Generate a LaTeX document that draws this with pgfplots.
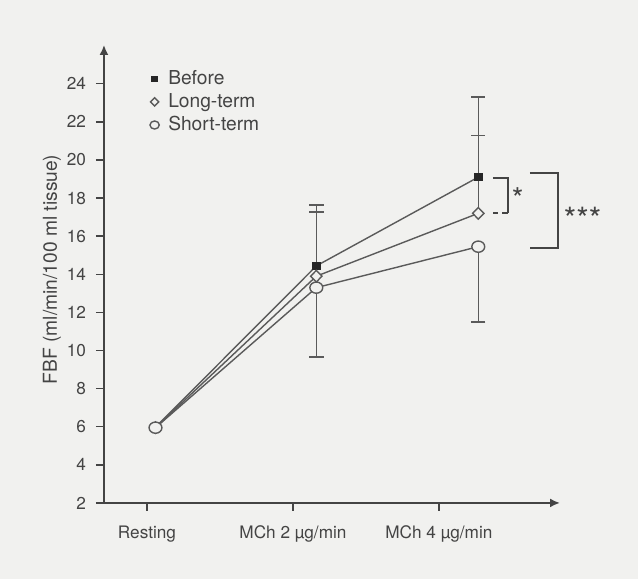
\documentclass[border=0pt]{standalone}
\usepackage{fontspec}
\setmainfont{TeX Gyre Heros}
\usepackage{pgfplots}
\pgfplotsset{compat=1.18}
\usetikzlibrary{backgrounds,arrows.meta}
\definecolor{Paper}{HTML}{F1F1EF}
\definecolor{Ink}{HTML}{444444}
\definecolor{Trace}{HTML}{5A5A5A}

\begin{document}
\begin{tikzpicture}
\begin{axis}[scale only axis,width=228pt,height=229pt,
  xmin=-0.295,xmax=2.83,ymin=2,ymax=26.04,
  axis lines=left,
  axis line style={Ink,line width=1pt,-{Latex[length=5pt,width=4.5pt]}},
  xtick={0,1,2},xticklabels={Resting,MCh 2 µg/min,MCh 4 µg/min},
  ytick={2,4,...,24},
  tick align=outside,major tick length=4pt,
  tick style={Ink,line width=0.7pt},
  /pgf/number format/assume math mode=true,
  tick label style={Ink,font=\fontsize{8.6}{9}\selectfont},
  xticklabel style={yshift=-4pt},
  yticklabel style={xshift=-1.5pt},
  ylabel={FBF (ml/min/100 ml tissue)},
  every axis y label/.style={at={(rel axis cs:-0.114,0.51)},rotate=90,anchor=center,
    Ink,font=\fontsize{9.6}{10}\selectfont},
  clip=false,
  legend image code/.code={\draw[#1,every mark/.append style={scale=0.72}] plot coordinates {(0pt,0pt)};},
  legend style={draw=none,fill=none,at={(rel axis cs:0.1,0.952)},anchor=north west,
    inner sep=0pt,row sep=0pt,font=\fontsize{9.6}{10}\selectfont,text=Ink,
    nodes={inner sep=1.5pt},
    /tikz/every odd column/.append style={column sep=3pt}},
  legend cell align=left]

% error bars first, markers sit on top of them
\addplot[forget plot,draw=none,mark=none,
  error bars/.cd,y dir=plus,y explicit,
  error bar style={draw=Trace,line width=0.7pt},
  error mark options={draw=Trace,rotate=90,mark size=3.6pt,line width=0.7pt}]
  coordinates {(1.16,14.44) +- (0,3.2) (2.27,19.1) +- (0,4.2)};
\addplot[forget plot,draw=none,mark=none,
  error bars/.cd,y dir=plus,y explicit,
  error bar style={draw=Trace,line width=0.7pt},
  error mark options={draw=Trace,rotate=90,mark size=3.6pt,line width=0.7pt}]
  coordinates {(1.16,13.9) +- (0,3.38) (2.27,17.2) +- (0,4.07)};
\addplot[forget plot,draw=none,mark=none,
  error bars/.cd,y dir=minus,y explicit,
  error bar style={draw=Trace,line width=0.7pt},
  error mark options={draw=Trace,rotate=90,mark size=3.6pt,line width=0.7pt}]
  coordinates {(1.16,13.3) +- (0,3.64) (2.27,15.45) +- (0,3.95)};

\addplot[Trace,line width=0.7pt,mark=square*,mark size=1.8pt,
  mark options={fill=black!85,draw=black!85}]
  coordinates {(0.056,5.96) (1.16,14.44) (2.27,19.1)};
\addlegendentry{Before}
\addplot[Trace,line width=0.7pt,mark=diamond*,mark size=2.9pt,
  mark options={fill=Paper,draw=Trace,xscale=1.3}]
  coordinates {(0.058,5.95) (1.16,13.9) (2.27,17.2)};
\addlegendentry{Long-term}
\addplot[Trace,line width=0.7pt,mark=*,mark size=2.8pt,
  mark options={fill=Paper,draw=Trace,xscale=1.15}]
  coordinates {(0.058,5.95) (1.16,13.3) (2.27,15.45)};
\addlegendentry{Short-term}

% significance brackets
\draw[Ink,line width=0.7pt] (axis cs:2.37,19.06) -- (axis cs:2.473,19.06) -- (axis cs:2.473,17.22);
\draw[Ink,line width=0.7pt,dash pattern=on 3pt off 2pt] (axis cs:2.473,17.22) -- (axis cs:2.37,17.22);
\node[Ink,font=\fontsize{15}{15}\selectfont,yshift=-3pt] at (axis cs:2.54,18.27) {*};
\draw[Ink,line width=0.7pt] (axis cs:2.623,19.32) -- (axis cs:2.815,19.32)
  -- (axis cs:2.815,15.39) -- (axis cs:2.623,15.39);
\node[Ink,font=\fontsize{16}{16}\selectfont,yshift=-3.5pt] at (axis cs:2.985,17.28) {***};

\coordinate (bgsw) at (rel axis cs:-0.228,-0.166);
\coordinate (bgne) at (rel axis cs:1.171,1.098);
\end{axis}
\begin{scope}[on background layer]
\fill[Paper] (bgsw) rectangle (bgne);
\end{scope}
\end{tikzpicture}
\end{document}
